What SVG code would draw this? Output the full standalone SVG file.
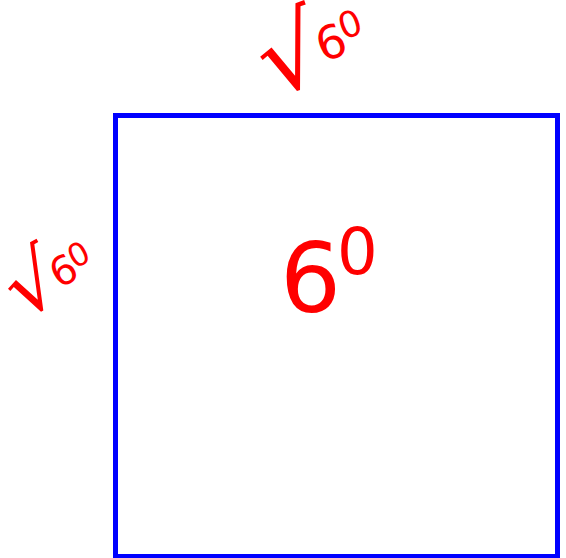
<svg xmlns="http://www.w3.org/2000/svg" width="566" height="558" viewBox="0 0 566 558">
<style>
.lbl{fill:#ff0000;font-family:"DejaVu Sans",sans-serif;}
</style>
<rect width="566" height="558" fill="#ffffff"/>
<g id="square">
<rect x="115.5" y="115.5" width="442" height="441" fill="none" stroke="#0000ff" stroke-width="5"/>
</g>
<g id="side-top">
<text class="lbl" transform="translate(272,98) rotate(-20)"><tspan font-size="100">√</tspan><tspan font-size="46" dx="-4" dy="-16">6</tspan><tspan font-size="36" dx="-2" dy="-14">0</tspan></text>
</g>
<g id="side-left">
<text class="lbl" transform="translate(22,320) rotate(-28)"><tspan font-size="80">√</tspan><tspan font-size="40" dx="-4" dy="-10">6</tspan><tspan font-size="32" dx="-2" dy="-10">0</tspan></text>
</g>
<g id="area">
<text class="lbl" x="280" y="312" font-size="96">6<tspan font-size="64" dx="-4" dy="-38">0</tspan></text>
</g>
</svg>
